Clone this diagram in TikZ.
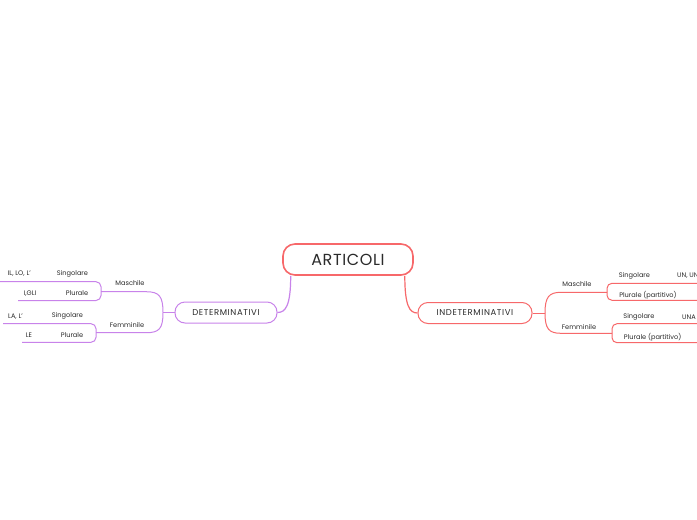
\documentclass[tikz,border=0pt]{standalone}
\usepackage{fontspec}
\setmainfont{Poppins}
\definecolor{redc}{HTML}{F7686A}
\definecolor{purc}{HTML}{C883EA}
\definecolor{txt}{HTML}{2B2B2B}
\begin{document}
\begin{tikzpicture}[x=1pt,y=-1pt,
  lbl/.style={font=\fontsize{6.6}{7}\selectfont, text=txt, inner sep=0pt},
  rootbox/.style={draw=redc, line width=1.6pt, rounded corners=12pt, fill=white,
    minimum width=130pt, minimum height=31pt, inner sep=0pt, text=txt,
    font=\fontsize{16}{18}\selectfont\addfontfeature{LetterSpace=4}},
  mainbox/.style={line width=1pt, rounded corners=10pt, fill=white,
    minimum height=21pt, inner sep=0pt, text=txt,
    font=\fontsize{8.5}{10}\selectfont\addfontfeature{LetterSpace=7}},
  thin/.style={line width=1pt}
]
\useasboundingbox (0,0) rectangle (697,520);
\clip (0,0) rectangle (697,520);
\fill[white] (0,0) rectangle (697,520);

% root and main nodes
\node[rootbox] (root) at (348,259.5) {ARTICOLI};
\node[mainbox, draw=purc, minimum width=102pt] (det) at (226,312.5) {DETERMINATIVI};
\node[mainbox, draw=redc, minimum width=114pt] (indet) at (475,313) {INDETERMINATIVI};

% root connectors
\draw[purc, line width=1.2pt] ([xshift=8.5pt]root.south west) .. controls +(0,30) and +(8,0) .. (det.east);
\draw[redc, line width=1.2pt] ([xshift=-9pt]root.south east) .. controls +(0,30) and +(-8,0) .. (indet.west);

% left branch
\coordinate (lhub) at (163,312.5);
\coordinate (lm) at (101,291.7);
\coordinate (lf) at (96,332.7);
\draw[purc, thin] (det.west) -- (lhub);
\draw[purc, thin] (lhub) .. controls (163,296) and (159,291.7) .. (146,291.7) -- (lm);
\draw[purc, thin] (lhub) .. controls (163,329) and (159,332.7) .. (146,332.7) -- (lf);
\node[lbl] (lmasc) at (130,283.5) {Maschile};
\node[lbl] (lfem) at (127,325) {Femminile};

\draw[purc, thin, rounded corners=5pt] (-3,281.7) -- (101,281.7) -- (101,300.5) -- (18,300.5);
\draw[purc, thin, rounded corners=5pt] (3,323.7) -- (96,323.7) -- (96,342.3) -- (22,342.3);

\node[lbl, anchor=east] (lms1) at (31,274) {IL, LO, L'};
\node[lbl] (lms) at (72.5,274) {Singolare};
\node[lbl] (lmp1) at (30,293.3) {I,GLI};
\node[lbl] (lmp) at (77,293.3) {Plurale};
\node[lbl] (lfs1) at (15.5,316.3) {LA, L'};
\node[lbl] (lfs) at (67.5,316.3) {Singolare};
\node[lbl] (lfp1) at (29,334.7) {LE};
\node[lbl] (lfp) at (72,334.7) {Plurale};

% right branch
\coordinate (rhub) at (545,313);
\coordinate (rm) at (607,292.3);
\coordinate (rf) at (612,333.3);
\draw[redc, thin] (indet.east) -- (rhub);
\draw[redc, thin] (rhub) .. controls (545,297) and (549,292.3) .. (561,292.3) -- (rm);
\draw[redc, thin] (rhub) .. controls (545,329) and (549,333.3) .. (561,333.3) -- (rf);
\node[lbl] (rmasc) at (577,284.3) {Maschile};
\node[lbl] (rfem) at (579,326.7) {Femminile};

\draw[redc, thin, rounded corners=5pt] (700,283.3) -- (607,283.3) -- (607,300.3) -- (700,300.3);
\draw[redc, thin, rounded corners=5pt] (700,323.7) -- (612,323.7) -- (612,342.7) -- (700,342.7);

\node[lbl] (rms) at (634.5,275.7) {Singolare};
\node[lbl, anchor=west] (rms1) at (677,275.7) {UN, UNO};
\node[lbl] (rmp) at (648,295) {Plurale (partitivo)};
\node[lbl] (rfs) at (639,317.3) {Singolare};
\node[lbl, anchor=west] (rfs1) at (682,317.3) {UNA};
\node[lbl] (rfp) at (652.7,337) {Plurale (partitivo)};
\end{tikzpicture}
\end{document}
